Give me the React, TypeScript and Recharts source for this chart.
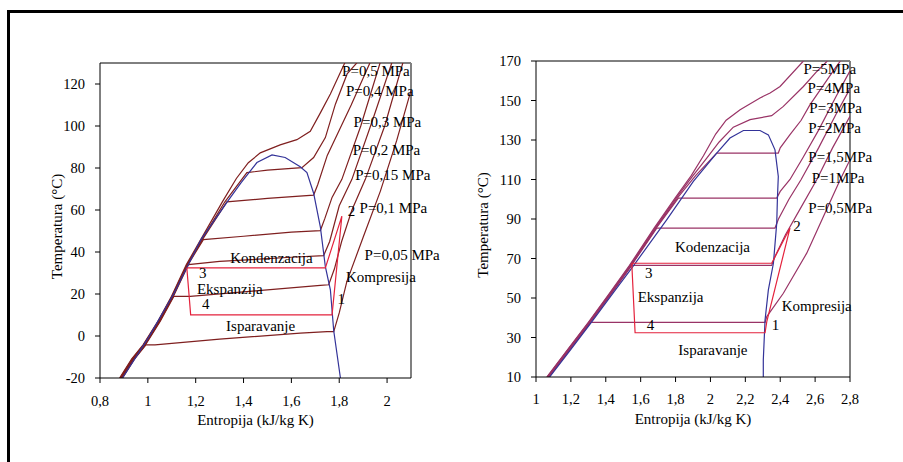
import { LineChart, Line, XAxis, YAxis, ReferenceLine, ReferenceDot } from "recharts"

type Pt = [number, number]

const FONT = "Liberation Serif"

// ---- left diagram (low pressure refrigerant) ----
const leftTicksX = [0.8, 1, 1.2, 1.4, 1.6, 1.8, 2]
const leftTicksY = [-20, 0, 20, 40, 60, 80, 100, 120]

const leftDome: Pt[] = [
    [0.894, -20], [1.005, -0.3], [1.11, 20.5], [1.222, 45.9], [1.334, 64.2], [1.39, 73],
    [1.456, 82.6], [1.519, 86.2], [1.574, 85], [1.637, 80.6], [1.665, 77.8], [1.693, 68],
    [1.721, 52], [1.742, 33], [1.763, 22], [1.777, 2.5], [1.805, -20],
]

const leftP005: Pt[] = [
    [0.894, -20], [0.944, -11], [0.992, -4.2], [1.03, -4.2], [1.3, -1.5], [1.637, 1.4], [1.749, 2.1],
    [1.777, 2.1], [1.8, 11], [1.832, 26], [1.9, 47], [1.972, 69], [2.04, 93], [2.1, 117],
]
const leftP01: Pt[] = [
    [0.892, -20], [0.942, -11], [0.99, -4.2], [1.052, 7], [1.109, 18.9], [1.177, 18.9], [1.45, 21.5],
    [1.721, 24.1], [1.756, 24.4], [1.78, 32], [1.81, 45], [1.853, 60], [1.909, 74.6], [1.99, 100], [2.067, 130.5],
]
const leftP015: Pt[] = [
    [0.89, -20], [0.94, -11], [0.988, -4.2], [1.05, 7], [1.107, 18.9], [1.17, 34], [1.3, 35.5],
    [1.6, 37.5], [1.735, 38.3], [1.76, 45], [1.8, 62], [1.853, 74.6], [1.94, 103], [2.021, 130.5],
]
const leftP02: Pt[] = [
    [0.888, -20], [0.938, -11], [0.986, -4.2], [1.048, 7], [1.105, 18.9], [1.168, 34], [1.232, 45.9],
    [1.4, 47.5], [1.6, 49.5], [1.721, 50.2], [1.74, 56], [1.77, 66], [1.811, 74.6], [1.89, 100], [1.972, 130.5],
]
const leftP03: Pt[] = [
    [0.886, -20], [0.936, -11], [0.984, -4.2], [1.046, 7], [1.103, 18.9], [1.166, 34], [1.228, 45.9],
    [1.33, 63.9], [1.5, 65.5], [1.693, 67.1], [1.71, 72], [1.75, 86], [1.8, 98], [1.85, 110], [1.93, 130.5],
]
const leftP04: Pt[] = [
    [0.884, -20], [0.934, -11], [0.982, -4.2], [1.044, 7], [1.101, 18.9], [1.164, 34], [1.225, 45.9],
    [1.322, 63.9], [1.414, 77.8], [1.5, 79], [1.644, 80.2], [1.693, 85], [1.742, 94.5], [1.784, 110.4],
    [1.833, 124.8], [1.877, 130.5],
]
const leftP05: Pt[] = [
    [0.882, -20], [0.932, -11], [0.98, -4.2], [1.042, 7], [1.099, 18.9], [1.161, 34], [1.221, 45.9],
    [1.312, 64], [1.37, 75], [1.42, 82.5], [1.47, 87.2], [1.553, 91], [1.623, 93.5], [1.679, 97.5],
    [1.72, 106], [1.763, 115.2], [1.825, 130.5],
]
const leftCycle: Pt[] = [
    [1.163, 32.4], [1.742, 32.4], [1.811, 57.1], [1.77, 10.1], [1.179, 10.1], [1.163, 32.4],
]

const leftNotes: [string, number, number][] = [
    ["P=0,5 MPa", 1.812, 126.2],
    ["P=0,4 MPa", 1.828, 116.8],
    ["P=0,3 MPa", 1.86, 102.2],
    ["P=0,2 MPa", 1.856, 88.9],
    ["P=0,15 MPa", 1.867, 77],
    ["P=0,1 MPa", 1.885, 61.1],
    ["2", 1.836, 59.5],
    ["P=0,05 MPa", 1.906, 38.8],
    ["Kondenzacija", 1.344, 37.2],
    ["Kompresija", 1.828, 28.1],
    ["3", 1.214, 30.3],
    ["Ekspanzija", 1.205, 22.6],
    ["4", 1.226, 15.6],
    ["1", 1.793, 17.6],
    ["Isparavanje", 1.327, 4.8],
]

// ---- right diagram (high pressure refrigerant) ----
const rightTicksX = [1, 1.2, 1.4, 1.6, 1.8, 2, 2.2, 2.4, 2.6, 2.8]
const rightTicksY = [10, 30, 50, 70, 90, 110, 130, 150, 170]

const rightDome: Pt[] = [
    [1.078, 10], [1.2, 24], [1.312, 37], [1.45, 53.5], [1.552, 65.5], [1.749, 89.6], [1.902, 109],
    [2.036, 123.4], [2.112, 131], [2.189, 134.8], [2.284, 134.8], [2.332, 132.6], [2.37, 125],
    [2.389, 111.5], [2.384, 100.6], [2.38, 87.9], [2.361, 67.6], [2.332, 54.1], [2.313, 38.9],
    [2.303, 18.6], [2.303, 10],
]

const rightP05: Pt[] = [
    [1.074, 10], [1.203, 25], [1.313, 37.7], [2.313, 37.7], [2.323, 40.6], [2.418, 52.4], [2.552, 72.7],
    [2.647, 91.2], [2.743, 109.8], [2.8, 120],
]
const rightP1: Pt[] = [
    [1.072, 10], [1.201, 25], [1.311, 37.7], [1.43, 52], [1.549, 66.5], [2.351, 66.5], [2.37, 71],
    [2.43, 82], [2.52, 96], [2.61, 110], [2.7, 126], [2.8, 142],
]
const rightP15: Pt[] = [
    [1.07, 10], [1.199, 25], [1.309, 37.7], [1.428, 52], [1.547, 66.5], [1.692, 85.4], [2.37, 85.4],
    [2.39, 90], [2.45, 100], [2.52, 110], [2.62, 126], [2.72, 143], [2.8, 156],
]
const rightP2: Pt[] = [
    [1.068, 10], [1.197, 25], [1.307, 37.7], [1.426, 52], [1.545, 66.5], [1.689, 85.4], [1.816, 100.6],
    [2.38, 100.6], [2.4, 104], [2.456, 110], [2.53, 121], [2.62, 135], [2.72, 152], [2.8, 165],
]
const rightP3: Pt[] = [
    [1.066, 10], [1.195, 25], [1.305, 37.7], [1.424, 52], [1.543, 66.5], [1.686, 85.4], [1.81, 100.6],
    [1.915, 112], [2.036, 123.4], [2.389, 123.4], [2.4, 126], [2.456, 132.7], [2.52, 140], [2.571, 147.9],
    [2.65, 158], [2.72, 167], [2.745, 170],
]
const rightP4: Pt[] = [
    [1.064, 10], [1.193, 25], [1.303, 37.7], [1.421, 52], [1.54, 66.5], [1.682, 85.4], [1.803, 100.6],
    [1.9, 112], [1.98, 121], [2.05, 129], [2.131, 136.5], [2.227, 140.3], [2.351, 142.3],
    [2.418, 147], [2.533, 157.1], [2.61, 164.7], [2.67, 170],
]
const rightP5: Pt[] = [
    [1.062, 10], [1.191, 25], [1.3, 37.7], [1.418, 52], [1.536, 66.5], [1.677, 85.4], [1.797, 100.6],
    [1.89, 112], [1.96, 122], [2.03, 133], [2.09, 140], [2.17, 145.3], [2.284, 151.3], [2.342, 153.8],
    [2.399, 157.1], [2.533, 170],
]
const rightCycle: Pt[] = [
    [1.549, 67.6], [2.351, 67.6], [2.456, 85.4], [2.323, 38], [2.313, 32.4], [1.568, 32.4], [1.549, 67.6],
]

const rightNotes: [string, number, number][] = [
    ["P=5MPa", 2.533, 166],
    ["P=4MPa", 2.556, 156.3],
    ["P=3MPa", 2.567, 146.2],
    ["P=2MPa", 2.561, 136.1],
    ["P=1,5MPa", 2.561, 121.4],
    ["P=1MPa", 2.581, 110.7],
    ["P=0,5MPa", 2.561, 95.5],
    ["2", 2.475, 86.5],
    ["Kodenzacija", 1.797, 76],
    ["3", 1.625, 62.6],
    ["Ekspanzija", 1.583, 50.7],
    ["Kompresija", 2.409, 46],
    ["4", 1.635, 36.4],
    ["1", 2.351, 36.4],
    ["Isparavanje", 1.816, 24],
]

const toRows = (pts: Pt[]) => pts.map(([s, t]) => ({ s, t }))
const fmt = (v: number) => String(v).replace(".", ",")

const yTitle = (dx: number, dy: number) => (props: any) => {
    const vb = props.viewBox || {}
    const x = vb.x + dx
    const y = vb.y + vb.height / 2 + dy
    return (
        <text x={x} y={y} transform={`rotate(-90 ${x} ${y})`} textAnchor="middle"
            dominantBaseline="central" fontSize={15} fontFamily={FONT} fill="#000">
            Temperatura (°C)
        </text>
    )
}

interface DiagramProps {
    left: number
    width: number
    margin: { top: number; right: number; bottom: number; left: number }
    xDomain: [number, number]
    yDomain: [number, number]
    xTicks: number[]
    yTicks: number[]
    series: Pt[][]
    color: string
    dome: Pt[]
    cycle: Pt[]
    notes: [string, number, number][]
    titleDx: number
    tickGap: number
}

function Diagram(p: DiagramProps) {
    const tick = { fill: "#000", fontSize: 14.5, fontFamily: FONT }
    return (
        <div style={{ position: "absolute", left: p.left, top: 0 }}>
            <LineChart width={p.width} height={462} margin={p.margin}>
                <XAxis type="number" dataKey="s" domain={p.xDomain} ticks={p.xTicks} allowDataOverflow
                    tickFormatter={fmt} tick={tick} tickSize={5} tickMargin={p.tickGap} height={30}
                    axisLine={{ stroke: "#000" }} tickLine={{ stroke: "#000" }}
                    label={{ value: "Entropija (kJ/kg K)", position: "bottom", offset: 6, fill: "#000", fontSize: 15, fontFamily: FONT }} />
                <YAxis type="number" dataKey="t" domain={p.yDomain} ticks={p.yTicks} allowDataOverflow
                    tickFormatter={fmt} tick={tick} tickSize={5} tickMargin={10} width={60}
                    axisLine={{ stroke: "#000" }} tickLine={{ stroke: "#000" }}
                    label={{ content: yTitle(p.titleDx, 6) }} />
                <ReferenceLine y={p.yDomain[1]} stroke="#000" strokeWidth={1} />
                <ReferenceLine x={p.xDomain[1]} stroke="#808080" strokeWidth={2} />
                {p.series.map((pts, i) => (
                    <Line key={i} data={toRows(pts)} dataKey="t" type="linear" stroke={p.color}
                        strokeWidth={1.2} dot={false} isAnimationActive={false} />
                ))}
                <Line data={toRows(p.dome)} dataKey="t" type="linear" stroke="#333399" strokeWidth={1.2}
                    dot={false} isAnimationActive={false} />
                <Line data={toRows(p.cycle)} dataKey="t" type="linear" stroke="#e4223c" strokeWidth={1.2}
                    dot={false} isAnimationActive={false} />
                {p.notes.map(([text, s, t], i) => (
                    <ReferenceDot key={"n" + i} x={s} y={t} r={0} fill="none" stroke="none"
                        label={{ value: text, position: "right", offset: 0, fill: "#000", fontSize: 15, fontFamily: FONT }} />
                ))}
            </LineChart>
        </div>
    )
}

export default function App() {
    return (
        <div style={{ position: "absolute", left: 0, top: 0, width: 903, height: 462, overflow: "hidden", background: "#fff", fontFamily: FONT }}>
            <style>{`svg text { font-family: "Liberation Serif", serif !important; }`}</style>
            <div style={{ position: "absolute", left: 7, top: 10, width: 1000, height: 1000, border: "3px solid #000" }} />
            <Diagram left={0} width={450} margin={{ top: 63, right: 39, bottom: 54, left: 40 }}
                xDomain={[0.8, 2.1]} yDomain={[-20, 130]} xTicks={leftTicksX} yTicks={leftTicksY}
                series={[leftP005, leftP01, leftP015, leftP02, leftP03, leftP04, leftP05]} color="#7f1f1f"
                dome={leftDome} cycle={leftCycle} notes={leftNotes} titleDx={16.5} tickGap={13} />
            <Diagram left={450} width={453} margin={{ top: 61, right: 53, bottom: 55, left: 26 }}
                xDomain={[1, 2.8]} yDomain={[10, 170]} xTicks={rightTicksX} yTicks={rightTicksY}
                series={[rightP05, rightP1, rightP15, rightP2, rightP3, rightP4, rightP5]} color="#993366"
                dome={rightDome} cycle={rightCycle} notes={rightNotes} titleDx={7.3} tickGap={12} />
        </div>
    )
}
